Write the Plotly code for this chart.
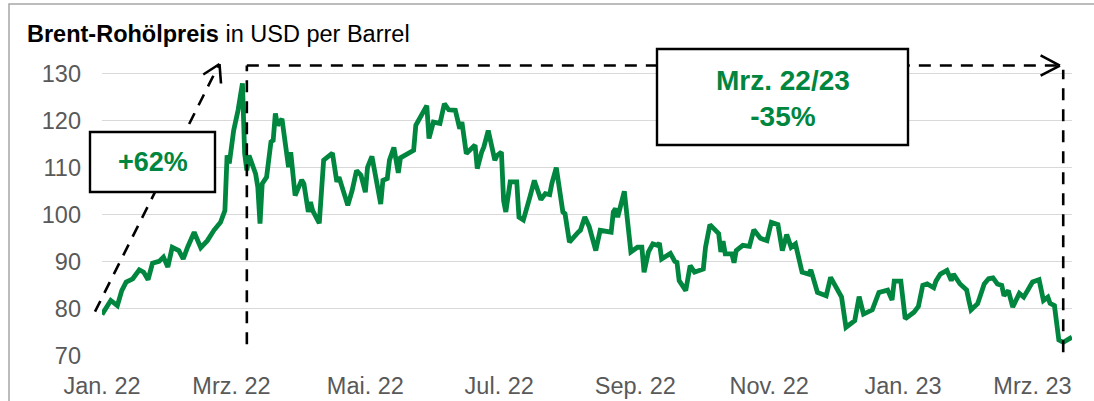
import pandas as pd
import plotly.graph_objects as go

# ---------------- data ----------------
dates = [
    "2022-01-01", "2022-01-05", "2022-01-08", "2022-01-10", "2022-01-12", "2022-01-15",
    "2022-01-18", "2022-01-20", "2022-01-22", "2022-01-24", "2022-01-27", "2022-01-29",
    "2022-01-31", "2022-02-02", "2022-02-05", "2022-02-07", "2022-02-09", "2022-02-12",
    "2022-02-15", "2022-02-18", "2022-02-21", "2022-02-23", "2022-02-24", "2022-02-26",
    "2022-02-27", "2022-02-28", "2022-03-02", "2022-03-04", "2022-03-06", "2022-03-07",
    "2022-03-08", "2022-03-09", "2022-03-12", "2022-03-13", "2022-03-14", "2022-03-15",
    "2022-03-17", "2022-03-19", "2022-03-20", "2022-03-21", "2022-03-22", "2022-03-24",
    "2022-03-27", "2022-03-28", "2022-03-30", "2022-04-02", "2022-04-03", "2022-04-05",
    "2022-04-06", "2022-04-07", "2022-04-10", "2022-04-12", "2022-04-16", "2022-04-18",
    "2022-04-19", "2022-04-23", "2022-04-25", "2022-04-27", "2022-04-29", "2022-05-01",
    "2022-05-02", "2022-05-04", "2022-05-08", "2022-05-09", "2022-05-11", "2022-05-12",
    "2022-05-14", "2022-05-16", "2022-05-17", "2022-05-23", "2022-05-24", "2022-05-29",
    "2022-05-30", "2022-06-01", "2022-06-04", "2022-06-06", "2022-06-08", "2022-06-11",
    "2022-06-13", "2022-06-14", "2022-06-16", "2022-06-20", "2022-06-21", "2022-06-23",
    "2022-06-24", "2022-06-26", "2022-06-29", "2022-06-30", "2022-07-02", "2022-07-03",
    "2022-07-04", "2022-07-06", "2022-07-09", "2022-07-10", "2022-07-12", "2022-07-15",
    "2022-07-17", "2022-07-20", "2022-07-22", "2022-07-24", "2022-07-25", "2022-07-27",
    "2022-07-30", "2022-07-31", "2022-08-02", "2022-08-06", "2022-08-07", "2022-08-09",
    "2022-08-11", "2022-08-14", "2022-08-16", "2022-08-21", "2022-08-22", "2022-08-23",
    "2022-08-24", "2022-08-27", "2022-08-30", "2022-09-02", "2022-09-04", "2022-09-05",
    "2022-09-07", "2022-09-09", "2022-09-11", "2022-09-12", "2022-09-13", "2022-09-17",
    "2022-09-19", "2022-09-20", "2022-09-21", "2022-09-24", "2022-09-26", "2022-09-28",
    "2022-10-02", "2022-10-03", "2022-10-05", "2022-10-09", "2022-10-10", "2022-10-11",
    "2022-10-12", "2022-10-15", "2022-10-16", "2022-10-17", "2022-10-20", "2022-10-23",
    "2022-10-25", "2022-10-28", "2022-10-31", "2022-11-02", "2022-11-05", "2022-11-07",
    "2022-11-09", "2022-11-11", "2022-11-13", "2022-11-16", "2022-11-19", "2022-11-20",
    "2022-11-22", "2022-11-23", "2022-11-27", "2022-11-29", "2022-12-04", "2022-12-06",
    "2022-12-10", "2022-12-12", "2022-12-14", "2022-12-18", "2022-12-21", "2022-12-25",
    "2022-12-27", "2022-12-28", "2022-12-31", "2023-01-02", "2023-01-06", "2023-01-08",
    "2023-01-10", "2023-01-12", "2023-01-15", "2023-01-16", "2023-01-18", "2023-01-21",
    "2023-01-23", "2023-01-24", "2023-01-27", "2023-01-30", "2023-01-31", "2023-02-01",
    "2023-02-04", "2023-02-06", "2023-02-07", "2023-02-09", "2023-02-11", "2023-02-13",
    "2023-02-15", "2023-02-16", "2023-02-18", "2023-02-20", "2023-02-23", "2023-02-25",
    "2023-02-27", "2023-03-01", "2023-03-04", "2023-03-06", "2023-03-08", "2023-03-09",
    "2023-03-11", "2023-03-13", "2023-03-15", "2023-03-19",
]
brent_usd = [
    78.8, 81.8, 80.7, 83.9, 85.7, 86.4,
    88.3, 87.8, 86.2, 89.7, 90.1, 91.0,
    88.9, 93.1, 92.4, 90.6, 93.1, 96.3,
    93.0, 94.5, 96.7, 97.9, 98.4, 100.9,
    112.6, 110.9, 117.9, 122.2, 127.9, 113.0,
    109.4, 112.6, 108.7, 105.9, 98.1, 106.6,
    108.0, 115.5, 115.8, 121.5, 119.0, 120.4,
    110.1, 113.3, 104.1, 107.4, 106.6, 100.6,
    102.7, 100.9, 98.2, 111.6, 113.1, 107.0,
    108.0, 102.0, 105.2, 109.4, 108.4, 104.8,
    110.1, 112.4, 102.3, 107.3, 107.7, 111.6,
    114.3, 108.9, 112.1, 113.7, 119.0, 123.2,
    116.2, 119.7, 119.4, 123.6, 122.3, 122.2,
    118.3, 119.7, 113.0, 114.8, 109.8, 113.3,
    114.4, 117.9, 111.6, 112.6, 113.3, 103.0,
    100.6, 107.0, 107.0, 99.5, 98.9, 103.8,
    107.3, 103.2, 104.5, 104.3, 106.7, 110.0,
    100.6, 100.2, 94.2, 96.3, 96.7, 99.5,
    97.5, 92.4, 96.7, 96.3, 100.6, 101.3,
    99.5, 105.0, 92.1, 93.1, 93.1, 87.8,
    92.1, 93.8, 93.5, 94.0, 90.6, 91.8,
    90.1, 89.9, 86.0, 83.9, 89.2, 87.8,
    88.5, 93.1, 97.9, 96.0, 92.1, 94.4,
    91.7, 91.7, 89.8, 92.4, 93.5, 93.3,
    96.8, 95.0, 94.5, 98.4, 97.9, 92.4,
    95.8, 93.1, 93.8, 87.8, 87.4, 88.3,
    85.0, 83.5, 82.8, 86.7, 82.5, 76.1,
    77.5, 82.6, 78.9, 79.8, 83.5, 84.0,
    81.9, 85.9, 85.9, 77.9, 79.3, 80.5,
    85.0, 85.3, 84.5, 85.9, 87.4, 88.2,
    86.0, 87.4, 85.3, 84.0, 81.8, 79.8,
    81.1, 84.3, 85.3, 86.4, 86.6, 85.3,
    85.0, 82.8, 83.9, 80.4, 83.3, 82.5,
    83.9, 85.7, 86.2, 81.8, 82.5, 81.2,
    80.7, 73.4, 72.9, 74.0,
]

tick_dates = ["2022-01-01", "2022-03-01", "2022-05-01", "2022-07-01",
              "2022-09-01", "2022-11-01", "2023-01-01", "2023-03-01"]
tick_labels = ["Jan. 22", "Mrz. 22", "Mai. 22", "Jul. 22",
               "Sep. 22", "Nov. 22", "Jan. 23", "Mrz. 23"]
y_ticks = [70, 80, 90, 100, 110, 120, 130]

x_range = ["2022-01-01", "2023-03-19"]
y_range = [70, 135]

# comparison markers
start_peak = "2022-03-08"
end_compare = "2023-03-15"
arrow_tip = pd.Timestamp("2023-03-13 12:00")
top_level = 131.7
label_up = "+62%"
label_down = "Mrz. 22/23<br>-35%"

# ---------------- layout geometry ----------------
W, H = 1094, 401
ML, MR, MT, MB = 102, 22, 50, 45
PW, PH = W - ML - MR, H - MT - MB


def px(xp):
    return (xp - ML) / PW


def py(yp):
    return (H - MB - yp) / PH


GREEN = "rgb(0,134,62)"
FONT = "Liberation Sans, Arial, sans-serif"
DASH = "12px,9px"

fig = go.Figure()
fig.add_trace(go.Scatter(
    x=pd.to_datetime(dates), y=brent_usd, mode="lines",
    line=dict(color=GREEN, width=4.8, shape="linear"),
    hoverinfo="skip", showlegend=False,
))

shapes = []
# outer frame
shapes.append(dict(type="rect", xref="paper", yref="paper",
                   x0=px(9), x1=px(1110), y0=py(415), y1=py(4),
                   line=dict(color="#A6A6A6", width=1.5), fillcolor="rgba(0,0,0,0)"))
# vertical dashed line at peak
shapes.append(dict(type="line", xref="x", yref="y", x0=start_peak, x1=start_peak,
                   y0=72.5, y1=top_level, line=dict(color="black", width=2.6, dash=DASH)))
# horizontal dashed line
shapes.append(dict(type="line", xref="x", yref="y", x0=start_peak, x1=arrow_tip,
                   y0=top_level, y1=top_level, line=dict(color="black", width=2.6, dash=DASH)))
# arrowhead (right)
back = pd.Timedelta(days=8.8)
for dy in (2.15, -2.15):
    shapes.append(dict(type="line", xref="x", yref="y", x0=arrow_tip - back, x1=arrow_tip,
                       y0=top_level + dy, y1=top_level, line=dict(color="black", width=2.6)))
# vertical dashed line at end
shapes.append(dict(type="line", xref="x", yref="y", x0=end_compare, x1=end_compare,
                   y0=70.8, y1=130.8, line=dict(color="black", width=2.6, dash=DASH)))
# rising dashed arrow (+62%)
shapes.append(dict(type="line", xref="paper", yref="paper", x0=px(95), y0=py(311.7),
                   x1=px(218.5), y1=py(65.5), line=dict(color="black", width=2.6, dash=DASH)))
shapes.append(dict(type="line", xref="paper", yref="paper", x0=px(203.3), y0=py(74.5),
                   x1=px(219.5), y1=py(64), line=dict(color="black", width=2.6)))
shapes.append(dict(type="line", xref="paper", yref="paper", x0=px(221), y0=py(83.5),
                   x1=px(219.5), y1=py(64), line=dict(color="black", width=2.6)))
# label boxes
shapes.append(dict(type="rect", xref="paper", yref="paper", x0=px(90), x1=px(215),
                   y0=py(192), y1=py(132), fillcolor="white", line=dict(color="black", width=2.4)))
shapes.append(dict(type="rect", xref="paper", yref="paper", x0=px(657), x1=px(908),
                   y0=py(145), y1=py(49), fillcolor="white", line=dict(color="black", width=2.4)))

annotations = [
    dict(xref="paper", yref="paper", x=px(25), y=py(34), xanchor="left", yanchor="middle",
         text="<b>Brent-Rohölpreis</b> in USD per Barrel", showarrow=False,
         font=dict(family=FONT, size=23.5, color="black")),
    dict(xref="paper", yref="paper", x=px(152.5), y=py(162), xanchor="center", yanchor="middle",
         text="<b>" + label_up + "</b>", showarrow=False,
         font=dict(family=FONT, size=27, color=GREEN)),
    dict(xref="paper", yref="paper", x=px(782.5), y=py(98), xanchor="center", yanchor="middle",
         text="<b>" + label_down.replace("<br>", "</b><br><b>") + "</b>", showarrow=False,
         font=dict(family=FONT, size=28, color=GREEN)),
]

fig.update_layout(
    width=W, height=H,
    margin=dict(l=ML, r=MR, t=MT, b=MB, pad=0, autoexpand=False),
    paper_bgcolor="white", plot_bgcolor="white",
    showlegend=False,
    shapes=shapes, annotations=annotations,
    font=dict(family=FONT, color="#595959"),
    xaxis=dict(type="date", range=pd.to_datetime(x_range), tickvals=pd.to_datetime(tick_dates),
               ticktext=tick_labels, showgrid=False, zeroline=False, showline=False,
               ticks="", tickfont=dict(family=FONT, size=23.5, color="#595959"),
               ticklabelstandoff=13, automargin=False, fixedrange=True),
    yaxis=dict(range=y_range, tickvals=y_ticks, showgrid=True, gridcolor="#D9D9D9",
               gridwidth=1.3, zeroline=False, showline=False, ticks="",
               tickfont=dict(family=FONT, size=23.5, color="#595959"),
               ticklabelstandoff=20, automargin=False, fixedrange=True),
)

fig.write_html("out.html", config={"displayModeBar": False},
               post_script="document.body.style.margin='0';")
